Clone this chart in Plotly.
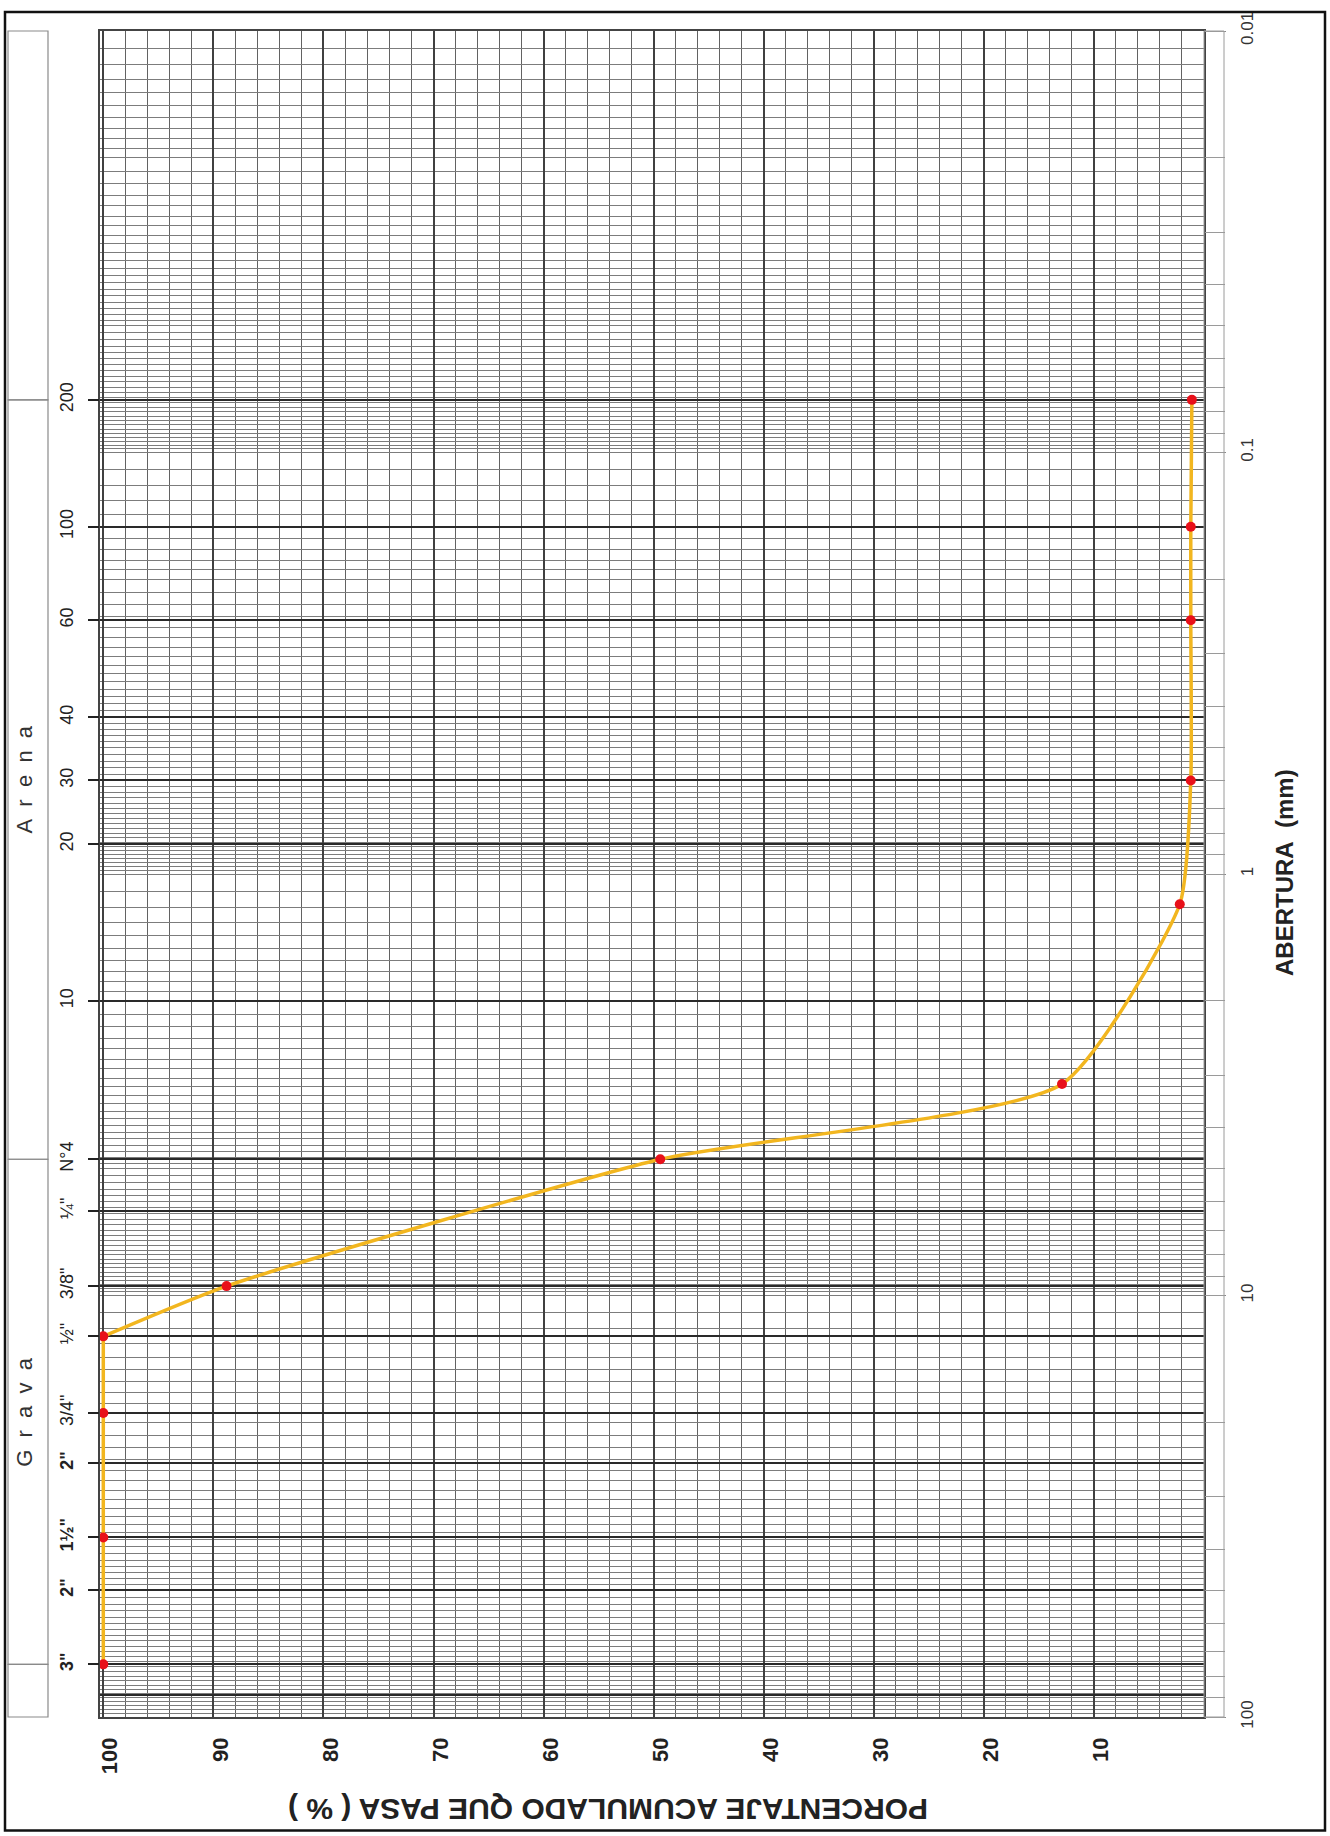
import numpy as np
import plotly.graph_objects as go

# ---------------- data ----------------
point_sieves = ['3"', '1½"', '3/4"', '½"', '3/8"', 'N°4', '3.15 mm', 'N°16', 'N°30', 'N°60', 'N°100', 'N°200']
aperture_mm = [75, 37.5, 19, 12.5, 9.5, 4.75, 3.15, 1.18, 0.6, 0.25, 0.15, 0.075]
passing_pct = [100, 100, 100, 100, 88.8, 49.4, 12.9, 2.2, 1.2, 1.2, 1.2, 1.1]

# sieve lines / labels (left side)
sieve_tick_mm = [75, 50, 37.5, 25, 19, 12.5, 9.5, 6.3, 4.75, 2.0, 0.85, 0.6, 0.425, 0.25, 0.15, 0.075]
sieve_tick_text = ['<b>3"</b>', '<b>2"</b>', '<b>1½"</b>', '<b>2"</b>', '3/4"', '½"', '3/8"', '¼"',
                   'N°4', '10', '20', '30', '40', '60', '100', '200']
extra_dark_mm = [88.9]

# aperture axis labels (right side)
aperture_ticks = [0.01, 0.1, 1, 10, 100]
aperture_tick_text = ['0.01', '0.1', '1', '10', '100']

# percent axis labels (bottom)
pct_ticks = [100, 90, 80, 70, 60, 50, 40, 30, 20, 10]
pct_tick_text = ['100', '90', '80', '70', '60', '50', '40', '30', '20', '10']

# ---------------- grid helper values (paper ruling) ----------------
minor_vals = []
strip_vals = []
for k in range(-2, 2):
    base = 10.0 ** k
    ms = list(np.arange(1.0, 2.0, 0.1)) + list(np.arange(2.0, 5.0, 0.15)) + list(np.arange(5.0, 10.0, 0.2))
    minor_vals += [round(m * base, 8) for m in ms]
    strip_vals += [round(m * base, 8) for m in range(1, 10)]
strip_vals.append(100)

# ---------------- geometry ----------------
W, H = 1330, 1836
L, R, T, B = 100, 126, 25, 119
PW, PH = W - L - R, H - T - B
YR = [2, -2.0]  # log10 range, 100 mm at bottom


def px_x(px):
    return (px - L) / PW


def px_y(py):
    return (H - B - py) / PH


def log_y(v):
    return (YR[0] - np.log10(v)) / (YR[0] - YR[1])


FONT = 'Liberation Sans, Arial, sans-serif'
CURVE = '#F2B61F'

fig = go.Figure()

# invisible traces to activate the overlay axes
for ax in ['y2', 'y3', 'y4']:
    fig.add_trace(go.Scatter(x=passing_pct, y=aperture_mm, yaxis=ax, mode='lines',
                             line=dict(width=0), opacity=0, hoverinfo='skip', showlegend=False))

# gravel (vertical) segment
fig.add_trace(go.Scatter(x=passing_pct[:4], y=aperture_mm[:4], mode='lines',
                         line=dict(color=CURVE, width=3.5), hoverinfo='skip', showlegend=False))
# smooth curve
fig.add_trace(go.Scatter(x=passing_pct[3:], y=aperture_mm[3:], mode='lines',
                         line=dict(color=CURVE, width=3.5, shape='spline', smoothing=0.55),
                         hoverinfo='skip', showlegend=False))
# points
fig.add_trace(go.Scatter(x=passing_pct, y=aperture_mm, mode='markers', text=point_sieves,
                         marker=dict(color='#E8101A', size=10), cliponaxis=False,
                         hovertemplate='%{text}: %{y} mm, %{x}%<extra></extra>', showlegend=False))

common_y = dict(type='log', range=YR, zeroline=False)

fig.update_layout(
    width=W, height=H,
    margin=dict(l=L, r=R, t=T, b=B),
    plot_bgcolor='white', paper_bgcolor='white',
    showlegend=False,
    font=dict(family=FONT, color='#222'),
    xaxis=dict(
        range=[100.3, 0], tickmode='array', tickvals=pct_ticks, ticktext=pct_tick_text,
        tickangle=-90, tickfont=dict(size=22, family=FONT, color='#222', weight='bold'),
        ticks='', ticklabelstandoff=10, ticklabelshift=-7,
        showgrid=True, gridcolor='#404040', gridwidth=1.5,
        minor=dict(tickmode='linear', tick0=0, dtick=2, showgrid=True, gridcolor='#626262', gridwidth=1.1, ticks=''),
        showline=True, mirror=True, linecolor='#444', linewidth=1.5, zeroline=False,
    ),
    yaxis=dict(
        **common_y, side='right', tickmode='array', tickvals=aperture_ticks, ticktext=aperture_tick_text,
        tickangle=-90, tickfont=dict(size=17, family=FONT, color='#333'),
        ticks='outside', ticklen=20, tickcolor='#888', tickwidth=1, ticklabelstandoff=7,
        showgrid=False,
        minor=dict(tickmode='array', tickvals=minor_vals, showgrid=True, gridcolor='#7c7c7c', gridwidth=0.9, ticks=''),
        showline=True, mirror=True, linecolor='#444', linewidth=1.5,
    ),
    yaxis2=dict(
        **common_y, overlaying='y', side='left', anchor='x', tickmode='array',
        tickvals=sieve_tick_mm, ticktext=sieve_tick_text, tickangle=-90,
        tickfont=dict(size=18, family=FONT, color='#222'),
        ticks='outside', ticklen=11, tickcolor='#222', tickwidth=2, ticklabelstandoff=8,
        showgrid=True, gridcolor='#2a2a2a', gridwidth=1.8, showline=False,
    ),
    yaxis3=dict(
        **common_y, overlaying='y', side='right', anchor='x', tickmode='array', tickvals=strip_vals,
        ticks='outside', ticklen=20, tickcolor='#9a9a9a', tickwidth=1, showticklabels=False,
        showgrid=False, showline=False,
    ),
    yaxis4=dict(
        **common_y, overlaying='y', side='left', anchor='x', tickmode='array', tickvals=extra_dark_mm,
        ticks='', showticklabels=False, showgrid=True, gridcolor='#2a2a2a', gridwidth=1.8, showline=False,
    ),
)

# ---------------- frames / boxes ----------------
shapes = []
# outer page border
shapes.append(dict(type='rect', xref='paper', yref='paper', x0=px_x(5), x1=px_x(1325), y0=px_y(1831), y1=px_y(6),
                   line=dict(color='#111', width=2.5), fillcolor='rgba(0,0,0,0)', layer='above'))
# right strip
shapes.append(dict(type='rect', xref='paper', yref='paper', x0=1.0, x1=px_x(1224), y0=0, y1=1,
                   line=dict(color='#9a9a9a', width=1), layer='above'))
# left label boxes (Grava / Arena)
bx0, bx1 = px_x(8), px_x(48)
box_edges = [1.0, log_y(0.075), log_y(4.75), log_y(75), 0.0]
for i in range(4):
    shapes.append(dict(type='rect', xref='paper', yref='paper', x0=bx0, x1=bx1,
                       y0=box_edges[i + 1], y1=box_edges[i], line=dict(color='#8a8a8a', width=1.2)))
fig.update_layout(shapes=shapes)

nb = '\u00a0'
annotations = [
    dict(text=(nb * 2).join('Arena'), xref='paper', yref='paper', x=px_x(25),
         y=(box_edges[1] + box_edges[2]) / 2, xanchor='center', yanchor='middle', textangle=-90,
         showarrow=False, font=dict(size=22, family=FONT, color='#333')),
    dict(text=(nb * 2).join('Grava'), xref='paper', yref='paper', x=px_x(25),
         y=(box_edges[2] + box_edges[3]) / 2, xanchor='center', yanchor='middle', textangle=-90,
         showarrow=False, font=dict(size=22, family=FONT, color='#333')),
    dict(text='PORCENTAJE ACUMULADO QUE PASA ( % )', xref='paper', yref='paper', x=px_x(608), y=px_y(1810),
         xanchor='center', yanchor='middle', textangle=180, showarrow=False,
         font=dict(size=30, family=FONT, color='#222', weight='bold')),
    dict(text='ABERTURA' + nb * 2 + '(mm)', xref='paper', yref='paper', x=px_x(1284), y=px_y(870),
         xanchor='center', yanchor='middle', textangle=-90, showarrow=False,
         font=dict(size=24, family=FONT, color='#222', weight='bold')),
]
fig.update_layout(annotations=annotations)

fig.write_html('out.html', config={'displayModeBar': False},
               post_script="document.body.style.margin='0';")
